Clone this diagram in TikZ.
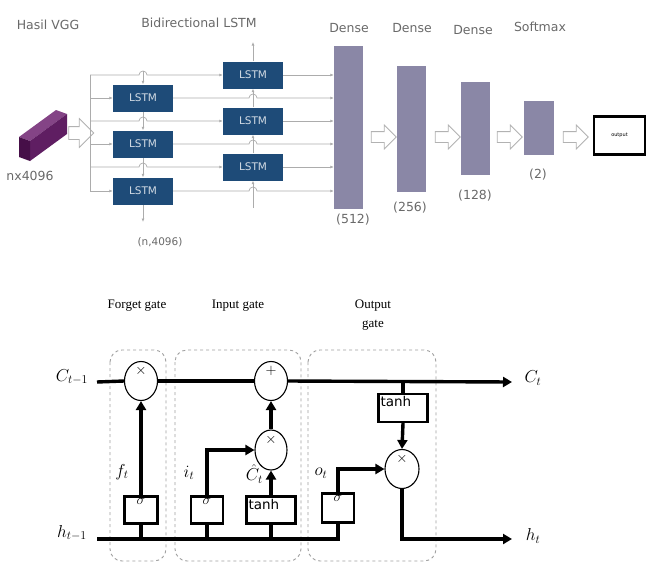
\documentclass[tikz,border=0pt]{standalone}
\usepackage{amsmath}
\usepackage{fontspec}
\setmainfont{Liberation Serif}
\newfontfamily\dejavu{DejaVu Sans}
\usetikzlibrary{positioning,calc,arrows.meta,shapes.arrows,shapes.geometric}

\definecolor{lstmblue}{RGB}{30,75,120}
\definecolor{densegray}{RGB}{138,135,166}
\definecolor{vggend}{RGB}{70,15,72}
\definecolor{vggside}{RGB}{95,30,98}
\definecolor{vggtop}{RGB}{132,68,134}
\definecolor{labelgray}{RGB}{105,105,105}

\begin{document}
\begin{tikzpicture}[x=1pt, y=-1pt,
          lstm/.style={rectangle, fill=lstmblue, minimum width=60pt, minimum height=27pt,
              text=white!80!lstmblue, font=\dejavu\fontsize{10.5}{12}\selectfont, inner sep=0pt},
          dense/.style={rectangle, fill=densegray, minimum width=29pt, inner sep=0pt},
          toptext/.style={text=labelgray, font=\dejavu\fontsize{12.5}{14}\selectfont},
          fat/.style={single arrow, draw=gray!60, fill=white, line width=0.8pt,
              minimum height=25pt, inner sep=5pt, single arrow head extend=6.5pt},
          bus/.style={draw=gray!65, line width=0.7pt},
          busarr/.style={bus, -{Latex[length=3.5pt,width=3pt]}},
          gate/.style={draw=gray!75, dashed, rounded corners=12pt, line width=0.9pt},
          gatetext/.style={font=\fontsize{13}{19}\selectfont, align=center},
          flow/.style={line width=3.4pt},
          flowarr/.style={flow, -{Triangle[length=9pt,width=10pt]}},
          op/.style={ellipse, draw, line width=1.1pt, minimum width=33pt, minimum height=39pt, inner sep=0pt},
          oplbl/.style={label={[anchor=north, inner sep=0pt, yshift=-5pt, font=\fontsize{15}{15}\selectfont]north:$#1$}},
          act/.style={rectangle, draw, line width=2.2pt, minimum height=27pt, inner sep=0pt},
          sig/.style={label={[anchor=north, inner sep=0pt, yshift=-3pt, font=\fontsize{15}{15}\selectfont]north:$\sigma$}},
          tanhlbl/.style={label={[anchor=north west, inner sep=0pt, xshift=3pt, yshift=-3.5pt,
              font=\dejavu\fontsize{13.5}{15}\selectfont]north west:tanh}},
          mathtext/.style={font=\fontsize{17}{19}\selectfont}
        ]
        \useasboundingbox (0,0) rectangle (647,562);

        % Hasil VGG feature block
        \fill[vggtop]  (19,137) -- (56,110) -- (67,114) -- (30,141) -- cycle;
        \fill[vggside] (30,141) -- (67,114) -- (67,134) -- (30,161) -- cycle;
        \fill[vggend]  (19,137) -- (30,141) -- (30,161) -- (19,157) -- cycle;
        \node[toptext] (vggname) at (48,25) {Hasil VGG};
        \node[toptext] (vggsize) at (30,176) {nx4096};
        \node[fat, inner sep=6pt, single arrow head extend=8pt] (fa0) at (78,133) {};

        % bidirectional LSTM
        \node[toptext] (bilstm) at (199,23) {Bidirectional LSTM};
        \coordinate (bt) at (90,75);
        \coordinate (bb) at (90,191);
        \node[lstm] (l1) at (143,98)  {LSTM};
        \node[lstm] (l2) at (143,144) {LSTM};
        \node[lstm] (l3) at (143,191) {LSTM};
        \node[lstm] (r1) at (253,75)  {LSTM};
        \node[lstm] (r2) at (253,121) {LSTM};
        \node[lstm] (r3) at (253,167) {LSTM};
        \node[toptext, font=\dejavu\fontsize{10.5}{12}\selectfont] (bisize) at (160,242) {(n,4096)};

        \draw[bus] (bt) -- (bb);
        \foreach \n in {1,2,3}
          \draw[busarr] (l\n.west -| bt) -- (l\n.west);
        \foreach \n in {1,2,3}
          \draw[busarr] (r\n.west -| bt) -- ($(r\n.west -| l1)+(-4,0)$) arc(180:360:4) -- (r\n.west);

        % column links
        \coordinate (ltop) at (143,71);
        \coordinate (lbot) at (143,222);
        \coordinate (rtop) at (253,42);
        \coordinate (rbot) at (253,208);
        \draw[busarr] (ltop) -- (l1.north);
        \draw[busarr] (l1) -- (l2.north);
        \draw[busarr] (l2) -- (l3.north);
        \draw[busarr] (l3.south) -- (lbot);
        \draw[busarr] (rbot) -- (r3.south);
        \draw[busarr] (r3) -- (r2.south);
        \draw[busarr] (r2) -- (r1.south);
        \draw[busarr] (r1.north) -- (rtop);
        \foreach \n in {l1,l2,l3,r1,r2,r3}
          \node[lstm] at (\n) {LSTM};

        % dense layers
        \node[dense, minimum height=163pt] (d1) at (348.5,127.5) {};
        \node[dense, minimum height=126pt] (d2) at (411.5,129) {};
        \node[dense, minimum height=93pt]  (d3) at (475.5,128.5) {};
        \node[dense, minimum width=30pt, minimum height=54pt] (sm) at (539,128) {};
        \foreach \n in {1,2,3}
          \draw[busarr] (l\n.east) -- ($(l\n.east -| r1)+(-4,0)$) arc(180:360:4) -- (l\n.east -| d1.west);
        \foreach \n in {1,2,3}
          \draw[busarr] (r\n.east) -- (r\n.east -| d1.west);

        \node[toptext] (d1name) at (349,28) {Dense};
        \node[toptext] (d2name) at (412,28) {Dense};
        \node[toptext] (d3name) at (473,30) {Dense};
        \node[toptext] (smname) at (540,27) {Softmax};
        \node[toptext] (d1size) at (353,220) {(512)};
        \node[toptext] (d2size) at (410,208) {(256)};
        \node[toptext] (d3size) at (475,196) {(128)};
        \node[toptext] (smsize) at (538,175) {(2)};

        \node[fat] (fa1) at (381,137) {};
        \node[fat] (fa2) at (445,137) {};
        \node[fat] (fa3) at (507,137) {};
        \node[fat] (fa4) at (573,137) {};
        \node[draw, line width=2.5pt, minimum width=51pt, minimum height=38pt,
              font=\dejavu\fontsize{5}{6}\selectfont] (out) at (619.5,135.5) {output};

        % LSTM cell
        \draw[gate] (110,350) rectangle (166,561);
        \draw[gate] (175,350) rectangle (301,561);
        \draw[gate] (308,350) rectangle (436,561);
        \node[gatetext] (fgname) at (137,306) {Forget gate};
        \node[gatetext] (igname) at (238,306) {Input gate};
        \node[gatetext] (ogname) at (373,315) {Output\\gate};

        \node[op, oplbl=\times] (fx) at (141,381) {};
        \node[op, oplbl=+] (ip) at (271,381) {};
        \node[op, oplbl=\times, minimum width=32pt, minimum height=40pt] (ix) at (271,450) {};
        \node[op, oplbl=\times, minimum width=34pt] (ox) at (402,469) {};

        \node[act, sig, minimum width=33pt] (fsig) at (141,510) {};
        \node[act, sig, minimum width=32pt] (isig) at (207,510) {};
        \node[act, tanhlbl, minimum width=49pt] (itanh) at (271,510) {};
        \node[act, tanhlbl, minimum width=49pt, minimum height=28pt] (otanh) at (403,408) {};
        \node[act, sig, minimum width=32pt, minimum height=29pt] (osig) at (338,508) {};

        \coordinate (cin)  at (97,382);
        \coordinate (cout) at (512,382);
        \coordinate (hin)  at (97,539);
        \coordinate (hout) at (512,539);
        \draw[flow] (cin) -- (fx.west);
        \draw[flow] (fx.east) -- (ip.west);
        \draw[flowarr] (ip.east) -- (cout);
        \draw[flow] (hin) -| (osig.south);
        \draw[flow] (fsig.south |- hin) -- (fsig.south);
        \draw[flow] (isig.south |- hin) -- (isig.south);
        \draw[flow] (itanh.south |- hin) -- (itanh.south);
        \draw[flowarr] (fsig.north) -- (fx.south);
        \draw[flowarr] (isig.north) |- (ix.west);
        \draw[flowarr] (itanh.north) -- (ix.south);
        \draw[flowarr] (ix.north) -- (ip.south);
        \draw[flow] (otanh.north |- cout) -- (otanh.north);
        \draw[flowarr] (otanh.south) -- (ox.north);
        \draw[flowarr] (osig.north) |- (ox.west);
        \draw[flowarr] (ox.south) |- (hout);

        \node[mathtext] (cprev) at (72,377) {$C_{t-1}$};
        \node[mathtext] (hprev) at (72,533) {$h_{t-1}$};
        \node[mathtext] (cnext) at (533,378) {$C_t$};
        \node[mathtext] (hnext) at (533,536) {$h_t$};
        \node[mathtext] (ft) at (122,472) {$f_t$};
        \node[mathtext] (it) at (189,473) {$i_t$};
        \node[mathtext, anchor=east, inner sep=0pt] (ct) at (263,474) {$\hat{C}_t$};
        \node[mathtext] (ot) at (321,473) {$o_t$};
      \end{tikzpicture}
\end{document}
